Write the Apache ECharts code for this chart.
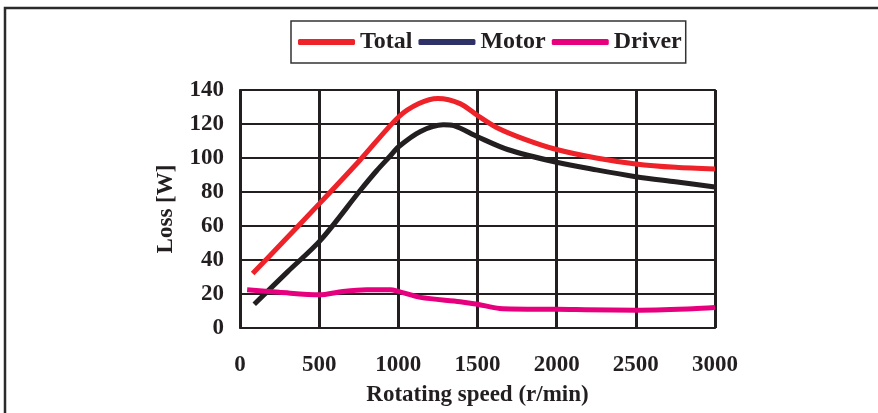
<!DOCTYPE html>
<html>
<head>
<meta charset="utf-8">
<script src="https://cdn.jsdelivr.net/npm/echarts@6/dist/echarts.min.js"></script>
<style>
  html, body { margin: 0; padding: 0; background: #fff; }
  #main { width: 878px; height: 413px; }
</style>
</head>
<body>
<div id="main"></div>
<script>
// speeds (r/min) and losses (W)
var totalSpeed = [80, 250, 500, 760, 1000, 1130, 1250, 1390, 1500, 1620, 1800, 2000, 2250, 2500, 2750, 3000];
var totalLoss  = [32, 48.5, 73, 99, 124, 132, 135, 132, 125, 118, 111, 105, 100, 96.5, 94.5, 93.5];
var motorSpeed = [90, 300, 512, 760, 863, 947, 1000, 1137, 1284, 1350, 1500, 1690, 2000, 2250, 2500, 2750, 3000];
var motorLoss  = [14, 33, 52, 81, 92.5, 101, 106.5, 115.5, 119.5, 119, 112.5, 105, 97.5, 93, 89, 86, 83];
var driverSpeed = [45, 250, 500, 650, 800, 950, 1000, 1140, 1390, 1500, 1640, 2000, 2500, 2860, 3000];
var driverLoss  = [22.5, 21, 19.5, 21.5, 22.5, 22.5, 21.5, 18, 15.5, 14, 11.5, 11, 10.5, 11.3, 12];

var names = ['Total', 'Motor', 'Driver'];
var xTicks = [0, 500, 1000, 1500, 2000, 2500, 3000];

function pairs(xs, ys) {
    var out = [];
    for (var i = 0; i < xs.length; i++) {
        out.push([xs[i], ys[i]]);
    }
    return out;
}

var font = '"Liberation Serif", "Times New Roman", serif';
var chart = echarts.init(document.getElementById('main'));

var option = {
    animation: false,
    backgroundColor: '#fff',
    graphic: [{
        type: 'polyline',
        shape: { points: [[5, 413], [5, 8], [878, 8]] },
        style: { stroke: '#2b2b2b', lineWidth: 2.5, fill: null }
    }],
    legend: {
        left: 291,
        top: 21,
        padding: [9, 4, 9, 7],
        borderColor: '#333',
        borderWidth: 1.5,
        itemWidth: 57,
        itemHeight: 6,
        itemGap: 6,
        icon: 'roundRect',
        textStyle: { fontFamily: font, fontWeight: 'bold', fontSize: 24, color: '#231f20' },
        data: [
            { name: names[0], itemStyle: { color: '#ee2229' } },
            { name: names[1], itemStyle: { color: '#2e3166' } },
            { name: names[2], itemStyle: { color: '#e6007e' } }
        ]
    },
    grid: {
        left: 240,
        right: 163,
        top: 90,
        bottom: 85,
        show: true,
        borderColor: '#444',
        borderWidth: 2
    },
    xAxis: {
        type: 'value',
        min: 0,
        max: 3000,
        interval: 500,
        name: 'Rotating speed (r/min)',
        nameLocation: 'middle',
        nameGap: 56,
        nameTextStyle: { fontFamily: font, fontWeight: 'bold', fontSize: 23, color: '#231f20' },
        axisLine: { show: false },
        axisTick: { show: false },
        axisLabel: {
            margin: 26,
            fontFamily: font, fontWeight: 'bold', fontSize: 23, color: '#231f20',
            formatter: function (v) { return xTicks.indexOf(v) >= 0 ? String(v) : ''; }
        },
        splitLine: { lineStyle: { color: '#231f20', width: 3 } }
    },
    yAxis: {
        type: 'value',
        min: 0,
        max: 140,
        interval: 20,
        name: 'Loss [W]',
        nameLocation: 'middle',
        nameGap: 62,
        nameTextStyle: { fontFamily: font, fontWeight: 'bold', fontSize: 23, color: '#231f20' },
        axisLine: { show: false },
        axisTick: { show: false },
        axisLabel: { margin: 16, fontFamily: font, fontWeight: 'bold', fontSize: 23, color: '#231f20' },
        splitLine: { lineStyle: { color: '#231f20', width: 2 } }
    },
    series: [
        {
            name: names[0], type: 'line', smooth: 0.3, showSymbol: false,
            itemStyle: { color: '#ee2229' },
            lineStyle: { color: '#ee2229', width: 5 },
            data: pairs(totalSpeed, totalLoss)
        },
        {
            name: names[1], type: 'line', smooth: 0.3, showSymbol: false,
            itemStyle: { color: '#2e3166' },
            lineStyle: { color: '#231f20', width: 5 },
            data: pairs(motorSpeed, motorLoss)
        },
        {
            name: names[2], type: 'line', smooth: 0.3, showSymbol: false,
            itemStyle: { color: '#e6007e' },
            lineStyle: { color: '#e6007e', width: 5 },
            data: pairs(driverSpeed, driverLoss)
        }
    ]
};

chart.setOption(option);
</script>
</body>
</html>
